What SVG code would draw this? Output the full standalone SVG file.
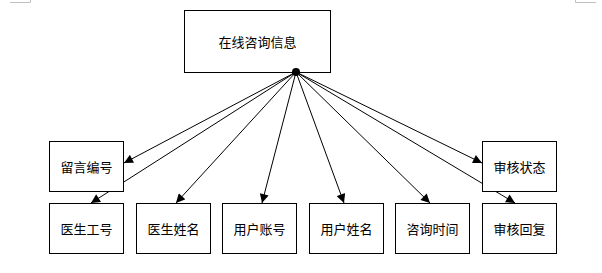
<svg xmlns="http://www.w3.org/2000/svg" width="602" height="273" viewBox="0 0 602 273">
<style>
.box{fill:#fff;stroke:#000;stroke-width:1}
.lbl{font-family:"Noto Sans CJK SC","Noto Sans CJK JP",sans-serif;font-size:13px;fill:#000;text-anchor:middle;dominant-baseline:central}
.con line{stroke:#000;stroke-width:1;marker-end:url(#ah)}
.mark{stroke:#c0c0c0;stroke-width:1;fill:none}
</style>
<defs>
<marker id="ah" viewBox="0 0 10 10" refX="10" refY="5" markerWidth="10" markerHeight="9" markerUnits="userSpaceOnUse" orient="auto">
<path d="M0,0 L10,5 L0,10 z" fill="#000"/>
</marker>
</defs>
<rect width="602" height="273" fill="#fff"/>
<path class="mark" d="M10,2.5 H30.5 V0"/>
<path class="mark" d="M575.5,0 V2.5 H596"/>
<g id="connectors" class="con">
<line x1="296" y1="72" x2="124" y2="163"/>
<line x1="296" y1="72" x2="91" y2="203"/>
<line x1="296" y1="72" x2="176" y2="203"/>
<line x1="296" y1="72" x2="262" y2="203"/>
<line x1="296" y1="72" x2="344" y2="203"/>
<line x1="296" y1="72" x2="430" y2="203"/>
<line x1="296" y1="72" x2="482" y2="163"/>
<line x1="296" y1="72" x2="515" y2="203"/>
</g>
<g id="n0"><rect class="box" x="184.5" y="10.5" width="146" height="62" stroke="#555"/><text class="lbl" x="257.5" y="41">在线咨询信息</text></g>
<g id="n1"><rect class="box" x="49.5" y="141.5" width="74" height="50"/><text class="lbl" x="86.5" y="166">留言编号</text></g>
<g id="n2"><rect class="box" x="482.5" y="141.5" width="74" height="50"/><text class="lbl" x="519.5" y="166">审核状态</text></g>
<g id="n3"><rect class="box" x="49.5" y="203.5" width="74" height="50"/><text class="lbl" x="86.5" y="228">医生工号</text></g>
<g id="n4"><rect class="box" x="136.5" y="203.5" width="74" height="50"/><text class="lbl" x="173.5" y="228">医生姓名</text></g>
<g id="n5"><rect class="box" x="222.5" y="203.5" width="74" height="50"/><text class="lbl" x="259.5" y="228">用户账号</text></g>
<g id="n6"><rect class="box" x="309.5" y="203.5" width="74" height="50"/><text class="lbl" x="346.5" y="228">用户姓名</text></g>
<g id="n7"><rect class="box" x="395.5" y="203.5" width="74" height="50"/><text class="lbl" x="432.5" y="228">咨询时间</text></g>
<g id="n8"><rect class="box" x="482.5" y="203.5" width="74" height="50"/><text class="lbl" x="519.5" y="228">审核回复</text></g>
<circle cx="296" cy="72" r="4" fill="#000"/>
</svg>
